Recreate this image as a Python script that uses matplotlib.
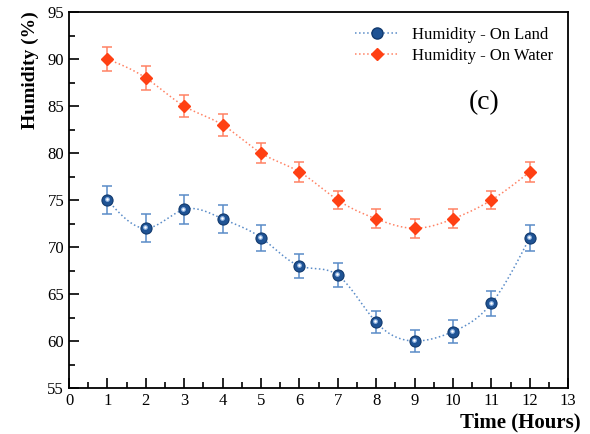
import numpy as np
import matplotlib
matplotlib.use("Agg")
import matplotlib.pyplot as plt
from matplotlib.ticker import MultipleLocator
from matplotlib.lines import Line2D
from matplotlib.transforms import ScaledTranslation

hours = [1, 2, 3, 4, 5, 6, 7, 8, 9, 10, 11, 12]
land = [75, 72, 74, 73, 71, 68, 67, 62, 60, 61, 64, 71]
land_err = [1.5, 1.5, 1.5, 1.5, 1.4, 1.3, 1.3, 1.2, 1.2, 1.2, 1.3, 1.4]
water = [90, 88, 85, 83, 80, 78, 75, 73, 72, 73, 75, 78]
water_err = [1.3, 1.3, 1.2, 1.2, 1.1, 1.1, 1.0, 1.0, 1.0, 1.0, 1.0, 1.1]

plt.rcParams['font.family'] = ['Liberation Serif', 'DejaVu Serif']


def spline(x, y, n=400):
    x = np.asarray(x, float)
    y = np.asarray(y, float)
    m = len(x)
    h = np.diff(x)
    A = np.zeros((m, m))
    b = np.zeros(m)
    A[0, 0] = 1
    A[-1, -1] = 1
    for i in range(1, m - 1):
        A[i, i - 1] = h[i - 1]
        A[i, i] = 2 * (h[i - 1] + h[i])
        A[i, i + 1] = h[i]
        b[i] = 3 * ((y[i + 1] - y[i]) / h[i] - (y[i] - y[i - 1]) / h[i - 1])
    c = np.linalg.solve(A, b)
    xs = np.linspace(x[0], x[-1], n)
    ys = np.empty_like(xs)
    for k, xv in enumerate(xs):
        i = min(np.searchsorted(x, xv, side='right') - 1, m - 2)
        dx = xv - x[i]
        bi = (y[i + 1] - y[i]) / h[i] - h[i] * (2 * c[i] + c[i + 1]) / 3
        di = (c[i + 1] - c[i]) / (3 * h[i])
        ys[k] = y[i] + bi * dx + c[i] * dx ** 2 + di * dx ** 3
    return xs, ys


fig = plt.figure(figsize=(5.9, 4.34), dpi=100)
ax = fig.add_axes([0.117, 0.106, 0.846, 0.866])

blue = '#1f5394'
blue_edge = '#123a6e'
blue_err = '#5a8cc8'
red = '#ff4013'
red_err = '#ff8264'

xs, ys = spline(hours, land)
ax.plot(xs, ys, ls=':', color=blue_err, lw=1.1)
ax.errorbar(hours, land, yerr=land_err, fmt='none', ecolor=blue_err,
            elinewidth=1.1, capsize=3.5, capthick=1.1)
ax.plot(hours, land, ls='none', marker='o', ms=8, mfc=blue, mec=blue_edge,
        mew=0.8)
shift = ax.transData + ScaledTranslation(-0.8 / 100, 0.8 / 100,
                                         fig.dpi_scale_trans)
ax.plot(hours, land, ls='none', marker='o', ms=3.5, mfc='#8fb3e0',
        mec='none', transform=shift)
ax.plot(hours, land, ls='none', marker='o', ms=1.8, mfc='white',
        mec='none', transform=shift)

xs, ys = spline(hours, water)
ax.plot(xs, ys, ls=':', color=red_err, lw=1.1)
ax.errorbar(hours, water, yerr=water_err, fmt='none', ecolor=red_err,
            elinewidth=1.1, capsize=3.5, capthick=1.1)
ax.plot(hours, water, ls='none', marker='D', ms=6.5, mfc=red, mec=red)

handles = [
    Line2D([], [], ls=':', color=blue_err, lw=1.1, marker='o', ms=8, mfc=blue,
           mec=blue_edge),
    Line2D([], [], ls=':', color=red_err, lw=1.1, marker='D', ms=6.5,
           mfc=red, mec=red),
]
labels = ['Humidity - On Land', 'Humidity - On Water']
ax.legend(handles, labels, loc='upper right', frameon=False, fontsize=12,
          bbox_to_anchor=(1.0, 1.0), handlelength=2.6, labelspacing=0.3)

ax.text(10.8, 85.4, '(c)', fontsize=20, ha='center', va='center')

ax.set_xlim(0, 13)
ax.set_ylim(55, 95)
ax.xaxis.set_major_locator(MultipleLocator(1))
ax.xaxis.set_minor_locator(MultipleLocator(0.5))
ax.yaxis.set_major_locator(MultipleLocator(5))
ax.yaxis.set_minor_locator(MultipleLocator(2.5))
ax.tick_params(which='both', direction='in', labelsize=12, width=1.2)
ax.tick_params(which='major', length=7)
ax.tick_params(which='minor', length=4)
for s in ax.spines.values():
    s.set_linewidth(1.3)

ax.set_ylabel('Humidity (%)', fontsize=14, fontweight='bold')
ax.yaxis.set_label_coords(-0.06, 0.845)
ax.set_xlabel('Time (Hours)', fontsize=15, fontweight='bold')
ax.xaxis.set_label_coords(0.905, -0.065)

fig.savefig('out.png', dpi=100)
